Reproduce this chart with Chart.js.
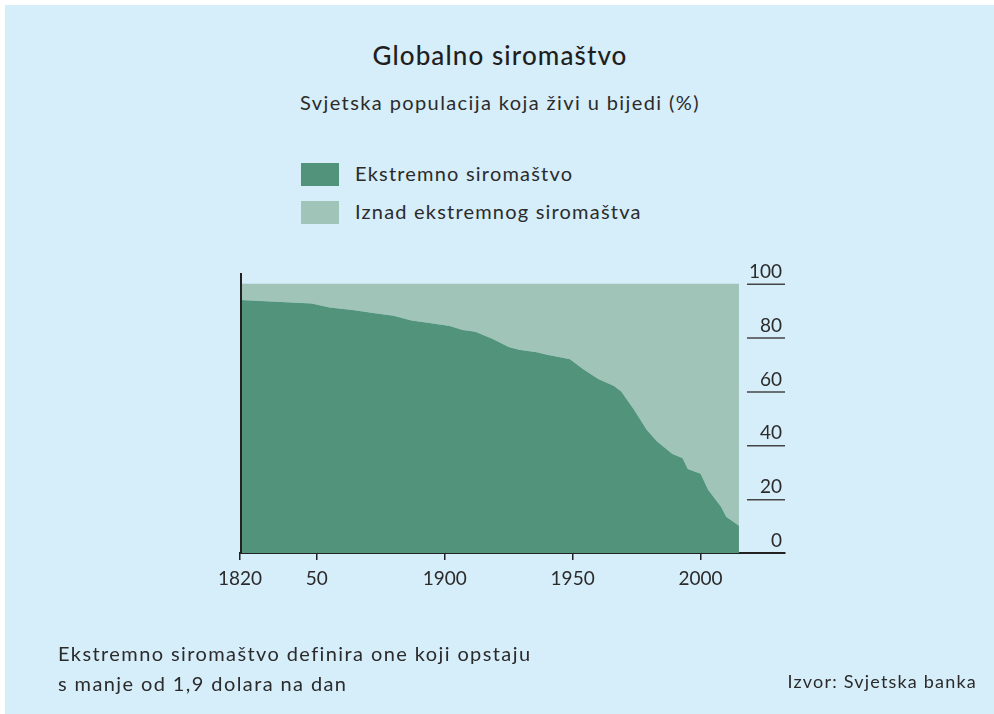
<!DOCTYPE html>
<html>
<head>
<meta charset="utf-8">
<script src="https://cdn.jsdelivr.net/npm/chart.js@4.4.1/dist/chart.umd.min.js"></script>
<style>
  html, body { margin: 0; padding: 0; background: #fff; }
  body { width: 994px; height: 714px; position: relative; overflow: hidden; font-family: 'Lato', sans-serif; color: #2b2b2b; }
  #panel { position: absolute; left: 5px; top: 5px; right: 0; bottom: 0; background: #d6edfa; }
  #chart-wrap { position: absolute; left: 0; top: 0; width: 994px; height: 714px; }
  .txt { position: absolute; white-space: nowrap; }
  #title { left: 0; width: 1000px; top: 39px; text-align: center; font-size: 26px; font-weight: 500; letter-spacing: 1.1px; color: #1f1f1f; }
  #subtitle { left: 0; width: 1000px; top: 90px; text-align: center; font-size: 20px; letter-spacing: 1.4px; }
  .leg { left: 301px; font-size: 20px; letter-spacing: 1.2px; }
  .leg span.box { position: absolute; left: 0; top: 2px; width: 38px; height: 23px; }
  .leg span.lbl { position: absolute; left: 54px; top: 0; }
  #note { left: 58px; top: 638px; font-size: 20px; line-height: 30px; letter-spacing: 1.4px; }
  #source { right: 17px; top: 670px; font-size: 18px; letter-spacing: 1.2px; }
</style>
</head>
<body>
<div id="panel"></div>
<div class="txt" id="title">Globalno siromaštvo</div>
<div class="txt" id="subtitle">Svjetska populacija koja živi u bijedi (%)</div>
<div class="txt leg" style="top:161px"><span class="box" style="background:#52937c"></span><span class="lbl">Ekstremno siromaštvo</span></div>
<div class="txt leg" style="top:199px"><span class="box" style="background:#a1c4b8"></span><span class="lbl">Iznad ekstremnog siromaštva</span></div>
<div id="chart-wrap"><canvas id="chart" width="994" height="714"></canvas></div>
<div class="txt" id="note">Ekstremno siromaštvo definira one koji opstaju<br>s manje od 1,9 dolara na dan</div>
<div class="txt" id="source">Izvor: Svjetska banka</div>

<script>
// data
const years = [1820, 1848, 1855, 1864, 1872, 1880, 1887, 1894, 1902, 1907, 1912, 1919, 1925, 1929, 1936, 1940,
               1949, 1954, 1960, 1966, 1969, 1974, 1979, 1983, 1989, 1993, 1995, 2000, 2003, 2008, 2010, 2015];
const ekstremno = [94, 92.7, 91.2, 90.3, 89.1, 88.1, 86.4, 85.4, 84.3, 82.8, 82.2, 79.4, 76.5, 75.5, 74.6, 73.6,
                   72.0, 68.3, 64.6, 62.1, 60.0, 53.2, 45.7, 41.4, 36.8, 35.2, 31.2, 29.4, 23.4, 17.2, 13.5, 10.1];
const ukupno = [100, 100, 100, 100, 100, 100, 100, 100, 100, 100, 100, 100, 100, 100, 100, 100,
                100, 100, 100, 100, 100, 100, 100, 100, 100, 100, 100, 100, 100, 100, 100, 100];
const xTicks = [1820, 1850, 1900, 1950, 2000];
const xTickLabels = ['1820', '50', '1900', '1950', '2000'];
const yTicks = [0, 20, 40, 60, 80, 100];

const darkGreen = '#52937c';
const lightGreen = '#a1c4b8';
const axisColor = '#222';

// left axis line + right side tick labels with underlines
const axesPlugin = {
    id: 'axesPlugin',
    afterDraw(chart) {
        const ctx = chart.ctx;
        const area = chart.chartArea;
        const y = chart.scales.y;
        ctx.save();
        ctx.strokeStyle = axisColor;
        ctx.lineWidth = 2;
        ctx.beginPath();
        ctx.moveTo(area.left + 1, area.top);
        ctx.lineTo(area.left + 1, area.bottom);
        ctx.stroke();

        ctx.font = '19px Lato, sans-serif';
        ctx.fillStyle = '#2b2b2b';
        ctx.textAlign = 'right';
        ctx.textBaseline = 'middle';
        yTicks.forEach(v => {
            const py = y.getPixelForValue(v);
            if (v > 0) {
                ctx.strokeStyle = '#444';
                ctx.lineWidth = 1.5;
                ctx.beginPath();
                ctx.moveTo(area.right - 38, py + 0.5);
                ctx.lineTo(area.right, py + 0.5);
                ctx.stroke();
            }
            ctx.fillText(String(v), area.right - 3, py - 12);
        });
        ctx.restore();
    }
};

function setupChart() {
    const ctx = document.getElementById('chart').getContext('2d');
    new Chart(ctx, {
        type: 'line',
        data: {
            labels: years,
            datasets: [
                {
                    label: 'Ekstremno siromaštvo',
                    data: years.map((yr, i) => ({ x: yr, y: ekstremno[i] })),
                    backgroundColor: darkGreen,
                    borderWidth: 0,
                    pointRadius: 0,
                    fill: 'origin'
                },
                {
                    label: 'Iznad ekstremnog siromaštva',
                    data: years.map((yr, i) => ({ x: yr, y: ukupno[i] })),
                    backgroundColor: lightGreen,
                    borderWidth: 0,
                    pointRadius: 0,
                    fill: '-1'
                }
            ]
        },
        options: {
            responsive: false,
            animation: false,
            layout: { padding: { left: 240, right: 209, top: 273, bottom: 121 } },
            plugins: {
                legend: { display: false },
                tooltip: { enabled: false }
            },
            scales: {
                x: {
                    type: 'linear',
                    min: 1820,
                    max: 2033,
                    afterBuildTicks: scale => { scale.ticks = xTicks.map(v => ({ value: v })); },
                    afterFit: scale => { scale.height = 40; },
                    border: { display: true, color: axisColor, width: 2 },
                    grid: { drawOnChartArea: false, color: axisColor, lineWidth: 1.5, tickLength: 7 },
                    ticks: {
                        padding: 7,
                        color: '#2b2b2b',
                        font: { family: 'Lato', size: 19 },
                        maxRotation: 0,
                        autoSkip: false,
                        callback: value => xTickLabels[xTicks.indexOf(value)]
                    }
                },
                y: {
                    display: false,
                    min: 0,
                    max: 104
                }
            }
        },
        plugins: [axesPlugin]
    });
}

window.onload = () => {
    setupChart();
};
</script>
</body>
</html>
